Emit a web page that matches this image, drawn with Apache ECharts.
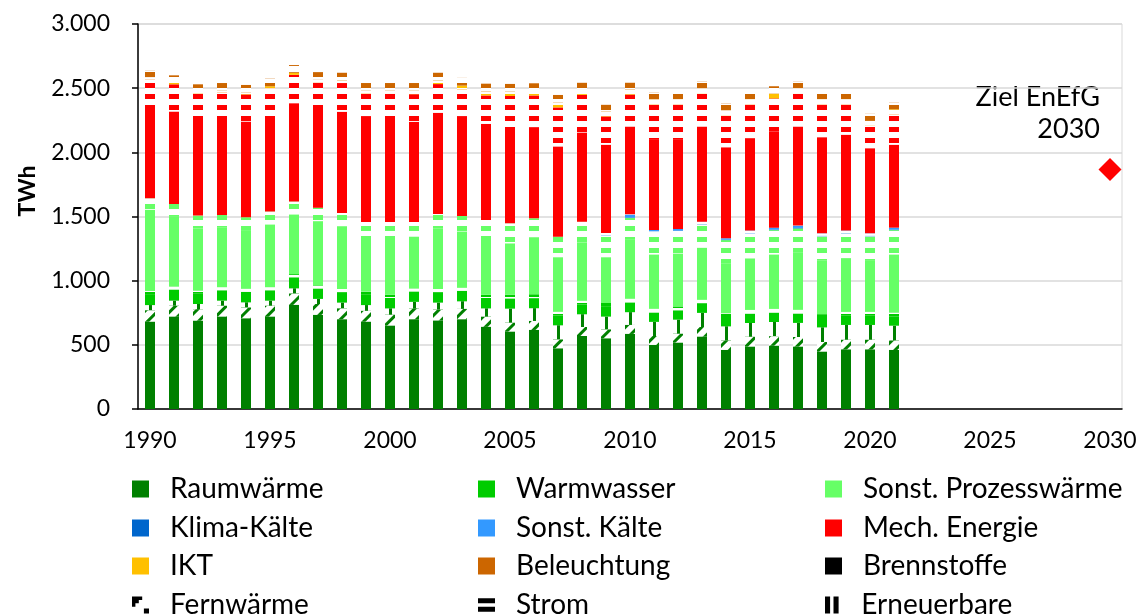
<!DOCTYPE html>
<html>
<head>
<meta charset="utf-8">
<script src="https://cdn.jsdelivr.net/npm/echarts@6/dist/echarts.min.js"></script>
<style>
  html, body { margin: 0; padding: 0; background: #fff; }
  #chart { width: 1142px; height: 616px; }
</style>
</head>
<body>
<div id="chart"></div>
<script>
// Achse 1990-2030, Daten 1990-2021
var axisYears = [];
for (var y = 1990; y <= 2030; y++) axisYears.push(String(y));

// Raumwärme: Brennstoffe / Fernwärme / Erneuerbare
var rwBrenn = [680,720,688,720,707,720,811,733,700,680,650,700,690,700,640,603,616,473,569,551,585,499,517,564,460,486,493,486,447,465,465,460];
var rwFern  = [90,85,90,85,85,85,90,85,85,85,85,85,85,80,80,70,70,70,70,70,70,70,70,75,75,77,75,75,75,75,75,75];
var rwErn   = [40,40,40,40,40,40,40,40,45,45,50,50,55,60,65,110,100,110,100,100,100,110,110,110,110,107,110,110,115,115,115,115];
// Warmwasser: Brennstoffe / Strom
var wwBrenn = [85,85,80,80,80,80,85,80,80,80,80,80,80,80,80,78,78,75,75,75,75,72,72,72,72,72,72,72,72,72,72,72];
var wwStrom = [25,25,25,25,25,25,25,25,25,25,25,25,25,25,25,30,30,30,30,30,30,30,30,30,30,30,30,30,30,30,30,30];
// Sonst. Prozesswärme: Brennstoffe / Strom
var pwBrenn = [632,548,484,462,457,488,465,501,488,433,458,403,470,439,458,400,442,425,456,357,458,423,413,405,389,402,424,444,416,419,403,452];
var pwStrom = [90,95,100,100,100,100,100,105,105,110,110,115,115,120,125,156,150,160,160,165,170,175,175,180,180,190,190,190,190,190,185,190];
// Kälte (Strom)
var klima   = [0,0,0,0,0,0,0,0,0,0,0,0,0,0,0,0,0,0,0,4,4,4,4,4,4,4,4,4,4,4,4,4];
var kaelte  = [0,0,0,0,0,0,0,0,0,0,0,0,0,0,0,0,0,0,0,20,25,12,12,20,10,22,15,18,20,20,20,15];
// Mech. Energie: Brennstoffe / Strom
var meBrenn = [727,719,745,771,745,745,767,800,787,818,794,779,787,772,748,727,709,702,694,686,683,702,694,740,709,720,748,771,749,746,663,645];
var meStrom = [201,213,206,185,212,217,221,178,225,182,203,216,225,214,222,265,248,305,294,222,250,276,278,256,246,265,259,255,257,239,175,239];
// IKT und Beleuchtung (Strom)
var ikt     = [10,10,12,12,14,15,16,18,20,22,25,27,28,30,32,34,35,37,38,40,40,40,40,40,40,40,40,40,40,40,38,38];
var licht   = [60,60,60,60,60,60,60,60,60,60,60,60,60,60,60,60,60,60,60,55,55,55,55,55,55,55,55,55,55,55,55,55];

var zielJahr = "2030";
var zielWert = 1867;

var C = {
  rw: "#008000", ww: "#00cc00", pw: "#66ff66", kk: "#0066cc", sk: "#3399ff",
  me: "#ff0000", ikt: "#ffc000", bl: "#cc6600", black: "#000000"
};

// Muster für Energieträger (weiß über der Balkenfarbe)
var decalFern = { symbol: "rect", symbolSize: 1, color: "#ffffff", dashArrayX: [1, 0], dashArrayY: [6, 3], rotation: -Math.PI / 4 };
var decalStrom = { symbol: "rect", symbolSize: 1, color: "#ffffff", dashArrayX: [1, 0], dashArrayY: [6, 5] };
var decalErn = { symbol: "rect", symbolSize: 1, color: "#ffffff", dashArrayX: [5, 3], dashArrayY: [1, 0] };

var stackParts = [
  { name: "Raumwärme", color: C.rw, data: rwBrenn },
  { name: "Raumwärme", color: C.rw, data: rwFern, decal: decalFern },
  { name: "Raumwärme", color: C.rw, data: rwErn, decal: decalErn },
  { name: "Warmwasser", color: C.ww, data: wwBrenn },
  { name: "Warmwasser", color: C.ww, data: wwStrom, decal: decalStrom },
  { name: "Sonst. Prozesswärme", color: C.pw, data: pwBrenn },
  { name: "Sonst. Prozesswärme", color: C.pw, data: pwStrom, decal: decalStrom },
  { name: "Klima-Kälte", color: C.kk, data: klima, decal: decalStrom },
  { name: "Sonst. Kälte", color: C.sk, data: kaelte, decal: decalStrom },
  { name: "Mech. Energie", color: C.me, data: meBrenn },
  { name: "Mech. Energie", color: C.me, data: meStrom, decal: decalStrom },
  { name: "IKT", color: C.ikt, data: ikt, decal: decalStrom },
  { name: "Beleuchtung", color: C.bl, data: licht, decal: decalStrom }
];

// Legendeneinträge (leere Serien, damit die Symbole einfarbig bleiben)
var legendColors = {
  "Raumwärme": C.rw, "Warmwasser": C.ww, "Sonst. Prozesswärme": C.pw,
  "Klima-Kälte": C.kk, "Sonst. Kälte": C.sk, "Mech. Energie": C.me,
  "IKT": C.ikt, "Beleuchtung": C.bl, "Brennstoffe": C.black,
  "Fernwärme": C.black, "Strom": C.black, "Erneuerbare": C.black
};
var legendIcons = {
  "Fernwärme": "path://M0,0H6V2H4V4H2V6H0Z M7,7H10V10H7Z",
  "Strom": "path://M0,1H10V4H0Z M0,6H10V9H0Z",
  "Erneuerbare": "path://M1,0H4V10H1Z M6,0H9V10H6Z"
};
var legendRows = [
  ["Raumwärme", "Warmwasser", "Sonst. Prozesswärme"],
  ["Klima-Kälte", "Sonst. Kälte", "Mech. Energie"],
  ["IKT", "Beleuchtung", "Brennstoffe"],
  ["Fernwärme", "Strom", "Erneuerbare"]
];
var legendLeft = [132, 478, 825];
var legendTop = [475, 514, 552, 591];

var series = [];
Object.keys(legendColors).forEach(function (n) {
  series.push({ name: n, type: "scatter", data: [], itemStyle: { color: legendColors[n], opacity: 1 } });
});
stackParts.forEach(function (p) {
  var s = {
    name: p.name,
    type: "bar",
    stack: "total",
    barWidth: 10,
    data: p.data,
    itemStyle: { color: p.color },
    animation: false
  };
  if (p.decal) s.itemStyle.decal = p.decal;
  series.push(s);
});
series.push({
  name: "Ziel EnEfG 2030",
  type: "scatter",
  symbol: "diamond",
  symbolSize: 23,
  data: [[zielJahr, zielWert]],
  itemStyle: { color: "#ff0000", opacity: 1 },
  animation: false
});

// je Eintrag eine eigene Legende, damit die drei Spalten fest stehen
var legends = [];
legendRows.forEach(function (row, r) {
  row.forEach(function (n, c) {
    legends.push({
      left: legendLeft[c],
      top: legendTop[r],
      padding: 0,
      itemWidth: 17,
      itemHeight: 17,
      selectedMode: false,
      textStyle: { fontFamily: "Lato", fontSize: 28, color: "#000", padding: [0, 0, 0, 16] },
      data: [{ name: n, icon: legendIcons[n] || "rect" }]
    });
  });
});

var option = {
  backgroundColor: "#ffffff",
  animation: false,
  grid: { left: 138, right: 20, top: 24, bottom: 207, show: true, borderColor: "#d9d9d9", borderWidth: 1 },
  xAxis: {
    type: "category",
    data: axisYears,
    boundaryGap: true,
    splitLine: { show: false },
    axisLine: { lineStyle: { color: "#000", width: 1.5 } },
    axisTick: { interval: 4, length: 9, lineStyle: { color: "#000", width: 1.5 } },
    axisLabel: { interval: 4, fontFamily: "Lato", fontSize: 23, color: "#000", margin: 20 }
  },
  yAxis: {
    type: "value",
    min: 0,
    max: 3000,
    interval: 500,
    splitLine: { lineStyle: { color: "#d9d9d9", width: 1.5 } },
    axisLine: { show: true, lineStyle: { color: "#000", width: 1.5 } },
    axisTick: { show: true, length: 6, lineStyle: { color: "#000", width: 1.5 } },
    axisLabel: {
      fontFamily: "Lato", fontSize: 23, color: "#000", margin: 28,
      formatter: function (v) { return String(v).replace(/\B(?=(\d{3})+(?!\d))/g, "."); }
    }
  },
  legend: legends,
  graphic: [
    {
      type: "text", x: 28, y: 191, rotation: Math.PI / 2,
      style: { text: "TWh", font: "bold 23px Lato", fill: "#000", textAlign: "center", textVerticalAlign: "middle" }
    },
    {
      type: "text", x: 1100, y: 113,
      style: { text: "Ziel EnEfG\n2030", font: "27px Lato", fill: "#000", textAlign: "right", textVerticalAlign: "middle", lineHeight: 32 }
    }
  ],
  series: series
};

var chart = echarts.init(document.getElementById("chart"));
chart.setOption(option);
</script>
</body>
</html>
